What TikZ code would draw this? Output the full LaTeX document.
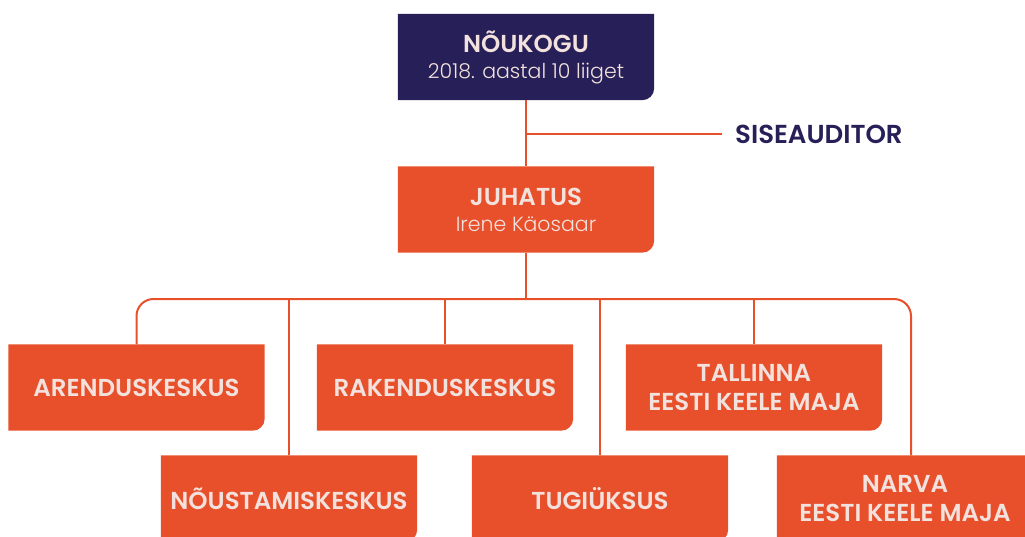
\documentclass[tikz,border=0pt]{standalone}
\usepackage{fontspec}
\setmainfont{Poppins}[UprightFont=* Light, BoldFont=* SemiBold]
\usetikzlibrary{backgrounds}

\definecolor{navy}{HTML}{271F57}
\definecolor{brick}{HTML}{E8502B}
\definecolor{blush}{HTML}{F2E1DC}

\tikzset{
  unit/.style={minimum width=256pt, minimum height=86pt, inner sep=0pt,
    align=center, text=blush, font=\fontsize{24.5}{29}\selectfont\bfseries},
  link/.style={draw=brick, line width=2pt},
}
% box with one rounded corner (bottom right)
\newcommand\tabshape[2]{\fill[#2] (#1.north west) -- (#1.north east)
  [rounded corners=12pt] -- (#1.south east) [sharp corners] -- (#1.south west) -- cycle;}
\newcommand\sub[1]{{\mdseries\fontsize{20.5}{23}\selectfont #1}}

\begin{document}
\begin{tikzpicture}[x=1pt, y=-1pt]
  \useasboundingbox (0,0) rectangle (1025,536);

  \node[unit] (nou) at (526,57) {NÕUKOGU\\[-3pt]\sub{2018. aastal 10 liiget}};
  \node[unit, text=navy, minimum width=0pt, minimum height=0pt, anchor=west,
    inner xsep=13pt, font=\fontsize{26}{29}\selectfont\bfseries] (sise) at (722,134) {SISEAUDITOR};
  \node[unit] (juh) at (526,209.5) {JUHATUS\\[-3pt]\sub{Irene Käosaar}};

  \node[unit] (arend) at (136.5,387.5) {ARENDUSKESKUS};
  \node[unit] (rak) at (445,387.5) {RAKENDUSKESKUS};
  \node[unit] (tall) at (754,387.5) {TALLINNA\\EESTI KEELE MAJA};
  \node[unit] (nous) at (289,498.5) {NÕUSTAMISKESKUS};
  \node[unit] (tugi) at (600,498.5) {TUGIÜKSUS};
  \node[unit] (narva) at (905,498.5) {NARVA\\EESTI KEELE MAJA};

  \begin{scope}[on background layer]
    \tabshape{nou}{navy}
    \foreach \n in {juh,arend,rak,tall,nous,tugi,narva} {\tabshape{\n}{brick}}
  \end{scope}

  \coordinate (tap) at (526,134);
  \coordinate (bus) at (526,299);
  \draw[link] (nou) -- (juh);
  \draw[link] (tap) -- (sise.west);
  \draw[link] (juh) -- (bus);
  \draw[link, rounded corners=17pt] (arend.north) |- (bus) -| ([xshift=6pt]narva.north);
  \foreach \n in {rak,tall,nous,tugi} \draw[link] (\n.north) -- (\n.north |- bus);
\end{tikzpicture}
\end{document}
